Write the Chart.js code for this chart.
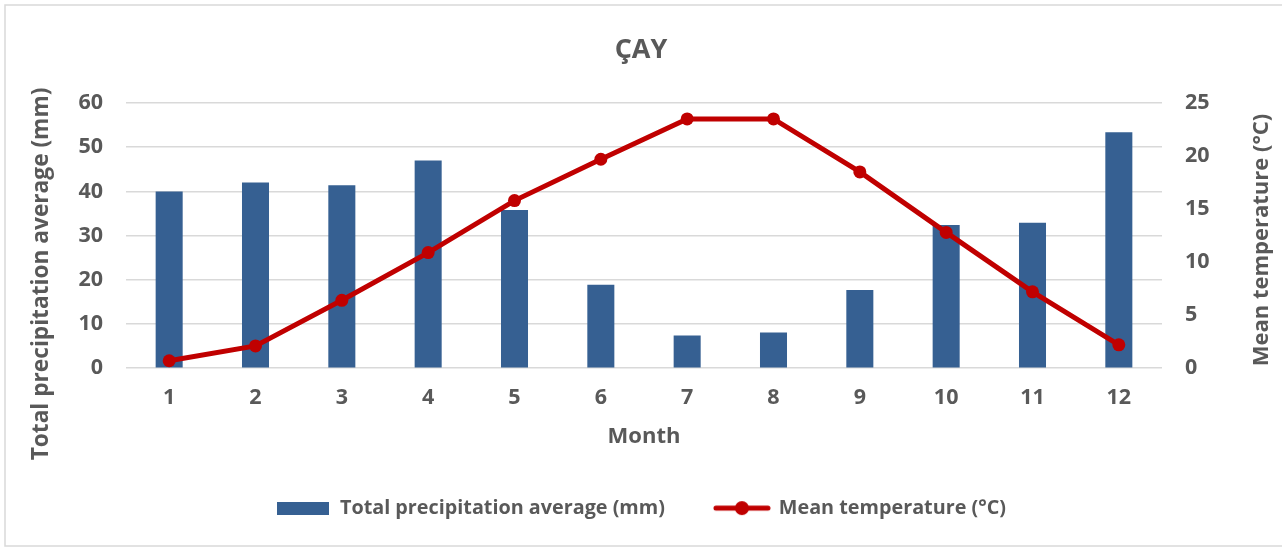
<!DOCTYPE html>
<html>
<head>
<meta charset="utf-8">
<script src="https://cdn.jsdelivr.net/npm/chart.js@4/dist/chart.umd.min.js"></script>
<style>
  html, body { margin: 0; padding: 0; background: #fff; }
  #wrap { position: relative; width: 1282px; height: 549px; }
</style>
</head>
<body>
<div id="wrap"><canvas id="chart" width="1282" height="549"></canvas></div>
<script>
// Chart data
var months = ['1', '2', '3', '4', '5', '6', '7', '8', '9', '10', '11', '12'];
var precipitation = [40, 42, 41.4, 47, 35.8, 18.9, 7.4, 8.1, 17.7, 32.4, 32.9, 53.4];
var temperature = [0.7, 2.1, 6.4, 10.9, 15.8, 19.7, 23.5, 23.5, 18.5, 12.8, 7.2, 2.2];

var barColor = '#366092';
var lineColor = '#C00000';
var textColor = '#595959';
var fontFamily = '"Open Sans", Lato, sans-serif';

// Legend symbols drawn on small canvases
function makeBarSymbol() {
  var c = document.createElement('canvas');
  c.width = 52; c.height = 13;
  var g = c.getContext('2d');
  g.fillStyle = barColor;
  g.fillRect(0, 0, 52, 13);
  return c;
}

function makeLineSymbol() {
  var c = document.createElement('canvas');
  c.width = 58; c.height = 16;
  var g = c.getContext('2d');
  g.strokeStyle = lineColor;
  g.lineWidth = 5;
  g.lineCap = 'round';
  g.beginPath();
  g.moveTo(3, 8);
  g.lineTo(55, 8);
  g.stroke();
  g.fillStyle = lineColor;
  g.beginPath();
  g.arc(29, 8, 7, 0, Math.PI * 2);
  g.fill();
  return c;
}

var barSymbol = makeBarSymbol();
var lineSymbol = makeLineSymbol();

function drawVerticalText(ctx, text, x, y, size) {
  ctx.save();
  ctx.translate(x, y);
  ctx.rotate(-Math.PI / 2);
  ctx.fillStyle = textColor;
  ctx.font = 'bold ' + size + 'px ' + fontFamily;
  ctx.textAlign = 'center';
  ctx.textBaseline = 'middle';
  ctx.fillText(text, 0, 0);
  ctx.restore();
}

// Outer frame and both axis titles (both read bottom to top)
var extrasPlugin = {
  id: 'extras',
  afterDraw: function(chart) {
    var ctx = chart.ctx;
    ctx.save();
    ctx.strokeStyle = '#d9d9d9';
    ctx.lineWidth = 1.5;
    ctx.strokeRect(5, 5, 1290, 541);
    ctx.restore();

    drawVerticalText(ctx, 'Total precipitation average (mm)', 42, 274, 22.7);
    drawVerticalText(ctx, 'Mean temperature (°C)', 1262, 240, 22);
  }
};

new Chart(document.getElementById('chart'), {
  data: {
    labels: months,
    datasets: [
      {
        type: 'line',
        label: 'Mean temperature (°C)',
        data: temperature,
        yAxisID: 'y1',
        borderColor: lineColor,
        backgroundColor: lineColor,
        borderWidth: 5,
        pointRadius: 6.5,
        pointHoverRadius: 6.5,
        pointBackgroundColor: lineColor,
        pointBorderWidth: 0,
        tension: 0,
        order: 0
      },
      {
        type: 'bar',
        label: 'Total precipitation average (mm)',
        data: precipitation,
        yAxisID: 'y',
        backgroundColor: barColor,
        categoryPercentage: 1,
        barPercentage: 0.313,
        order: 1
      }
    ]
  },
  options: {
    responsive: false,
    animation: false,
    layout: { padding: { left: 0, right: 0, top: 0, bottom: 21 } },
    plugins: {
      title: {
        display: true,
        text: 'ÇAY',
        color: textColor,
        font: { family: fontFamily, size: 27, weight: 'bold' },
        padding: { top: 34, bottom: 36.6 }
      },
      legend: {
        position: 'bottom',
        reverse: true,
        labels: {
          color: textColor,
          font: { family: fontFamily, size: 19.8, weight: 'bold' },
          usePointStyle: true,
          pointStyleWidth: 54,
          padding: 50,
          generateLabels: function(chart) {
            return chart.data.datasets.map(function(ds, i) {
              return {
                text: ds.label,
                pointStyle: ds.type === 'bar' ? barSymbol : lineSymbol,
                fillStyle: ds.backgroundColor,
                strokeStyle: ds.borderColor || ds.backgroundColor,
                lineWidth: 0,
                hidden: false,
                datasetIndex: i,
                fontColor: textColor
              };
            });
          }
        }
      },
      tooltip: { enabled: false }
    },
    scales: {
      x: {
        grid: { display: false, drawTicks: false },
        border: { display: false },
        ticks: {
          color: textColor,
          padding: 17,
          font: { family: fontFamily, size: 21.5, weight: 'bold' }
        },
        title: {
          display: true,
          text: 'Month',
          color: textColor,
          font: { family: fontFamily, size: 22, weight: 'bold', lineHeight: 1 },
          padding: { top: 0, bottom: 0 }
        },
        afterFit: function(scale) { scale.height = 80; }
      },
      y: {
        position: 'left',
        min: 0,
        max: 60,
        ticks: {
          stepSize: 10,
          color: textColor,
          padding: 23,
          font: { family: fontFamily, size: 21.5, weight: 'bold' }
        },
        grid: { color: '#d9d9d9', lineWidth: 1.5, drawTicks: false },
        border: { display: false },
        afterFit: function(scale) { scale.width = 126; }
      },
      y1: {
        position: 'right',
        min: 0,
        max: 25,
        ticks: {
          stepSize: 5,
          color: textColor,
          padding: 23,
          font: { family: fontFamily, size: 21.5, weight: 'bold' }
        },
        grid: { display: false, drawTicks: false },
        border: { display: false },
        afterFit: function(scale) { scale.width = 120; }
      }
    }
  },
  plugins: [extrasPlugin]
});
</script>
</body>
</html>
